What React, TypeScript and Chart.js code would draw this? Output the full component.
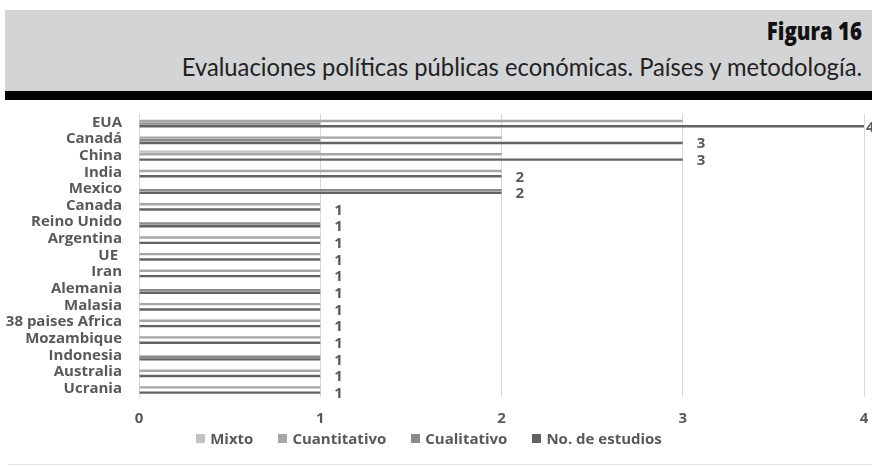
import React, { useEffect, useRef } from "react";
import { Chart, registerables } from "chart.js";

Chart.register(...registerables);

const categories = [
  "EUA", "Canadá", "China", "India", "Mexico", "Canada", "Reino Unido", "Argentina",
  "UE ", "Iran", "Alemania", "Malasia", "38 paises Africa", "Mozambique", "Indonesia",
  "Australia", "Ucrania",
];
const seriesNames = ["Mixto", "Cuantitativo", "Cualitativo", "No. de estudios"];
const mixto = [0, 0, 1, 0, 0, 0, 0, 0, 0, 0, 0, 0, 0, 0, 0, 0, 0];
const cuantitativo = [3, 2, 2, 2, 0, 1, 0, 1, 1, 1, 0, 1, 1, 1, 0, 1, 1];
const cualitativo = [1, 1, 0, 0, 2, 0, 1, 0, 0, 0, 1, 0, 0, 0, 1, 0, 0];
const estudios = [4, 3, 3, 2, 2, 1, 1, 1, 1, 1, 1, 1, 1, 1, 1, 1, 1];
const xTicks = [0, 1, 2, 3, 4];
const seriesColors = ["#c2c2c2", "#a6a6a6", "#8a8a8a", "#636363"];

const FONT = "'Open Sans', sans-serif";
const TEXT = "#595959";

const labelPlugin = {
  id: "endLabels",
  afterDatasetsDraw(chart: any) {
    const ctx = chart.ctx;
    const meta = chart.getDatasetMeta(3);
    ctx.save();
    ctx.font = "bold 15px 'Open Sans'";
    ctx.fillStyle = TEXT;
    ctx.textAlign = "left";
    ctx.textBaseline = "middle";
    meta.data.forEach((bar: any, i: number) => {
      const x = Math.min(bar.x + 14, chart.width - 6);
      ctx.fillText(String(estudios[i]), x, bar.y + 1);
    });
    ctx.restore();
  },
};

export default function App() {
  const ref = useRef<HTMLCanvasElement>(null);
  useEffect(() => {
    if (!ref.current) return;
    const bar = { barPercentage: 0.9, categoryPercentage: 0.64, borderWidth: 0 };
    const values = [mixto, cuantitativo, cualitativo, estudios];
    const chart = new Chart(ref.current, {
      type: "bar",
      data: {
        labels: categories,
        datasets: values.map((d, i) => ({
          label: seriesNames[i],
          data: d,
          backgroundColor: seriesColors[i],
          ...bar,
        })),
      },
      options: {
        indexAxis: "y",
        animation: false,
        responsive: false,
        maintainAspectRatio: false,
        layout: { padding: { top: 14, right: 8, left: 0, bottom: 3 } },
        scales: {
          x: {
            min: 0,
            max: 4,
            afterBuildTicks: (s: any) => {
              s.ticks = xTicks.map((v) => ({ value: v }));
            },
            afterFit: (s: any) => {
              s.height = 30;
              s.paddingLeft = 0;
              s.paddingRight = 0;
            },
            grid: { color: "#d9d9d9", drawTicks: false },
            border: { display: false },
            ticks: {
              padding: 13,
              color: TEXT,
              font: { family: FONT, size: 15, weight: "bold" },
            },
          },
          y: {
            afterFit: (s: any) => {
              s.width = 139;
              s.paddingTop = 0;
              s.paddingBottom = 0;
            },
            grid: { display: false, drawTicks: false },
            border: { display: true, color: "#d9d9d9" },
            ticks: {
              padding: 17,
              color: TEXT,
              autoSkip: false,
              font: { family: FONT, size: 15, weight: "bold" },
            },
          },
        },
        plugins: {
          legend: { display: false },
          tooltip: { enabled: false },
        },
      },
      plugins: [labelPlugin],
    } as any);
    return () => chart.destroy();
  }, []);

  return (
    <div style={{ position: "absolute", left: 0, top: 0, width: 872, height: 466, background: "#fff", overflow: "hidden" }}>
      <div style={{ position: "absolute", left: 5, top: 10, width: 867, height: 81, background: "#d3d4d6" }} />
      <div style={{ position: "absolute", left: 5, top: 91, width: 867, height: 9, background: "#000" }} />
      <div
        style={{
          position: "absolute",
          right: 10,
          top: 16,
          fontFamily: FONT,
          fontWeight: 800,
          fontSize: 24,
          lineHeight: "30px",
          color: "#111",
          whiteSpace: "nowrap",
          transform: "scaleX(0.85)",
          transformOrigin: "right center",
        }}
      >
        Figura 16
      </div>
      <div
        style={{
          position: "absolute",
          right: 10,
          top: 50,
          fontFamily: "Lato, sans-serif",
          fontSize: 25,
          lineHeight: "32px",
          color: "#222",
          whiteSpace: "nowrap",
          transform: "scaleX(0.95)",
          transformOrigin: "right center",
        }}
      >
        Evaluaciones políticas públicas económicas. Países y metodología.
      </div>
      <canvas ref={ref} width={872} height={330} style={{ position: "absolute", left: 0, top: 100 }} />
      <div
        style={{
          position: "absolute",
          left: 0,
          width: 872,
          top: 428,
          height: 20,
          display: "flex",
          justifyContent: "center",
          alignItems: "center",
          paddingRight: 14,
          boxSizing: "border-box",
          fontFamily: FONT,
          fontWeight: "bold",
          fontSize: 15,
          color: TEXT,
        }}
      >
        {seriesNames.map((n, i) => (
          <div key={n} style={{ display: "flex", alignItems: "center", marginLeft: i === 0 ? 0 : 25 }}>
            <span style={{ display: "inline-block", width: 9, height: 9, background: seriesColors[i], marginRight: 5 }} />
            <span>{n}</span>
          </div>
        ))}
      </div>
      <div style={{ position: "absolute", left: 8, top: 464, width: 864, height: 1, background: "#e3e3e3" }} />
    </div>
  );
}
